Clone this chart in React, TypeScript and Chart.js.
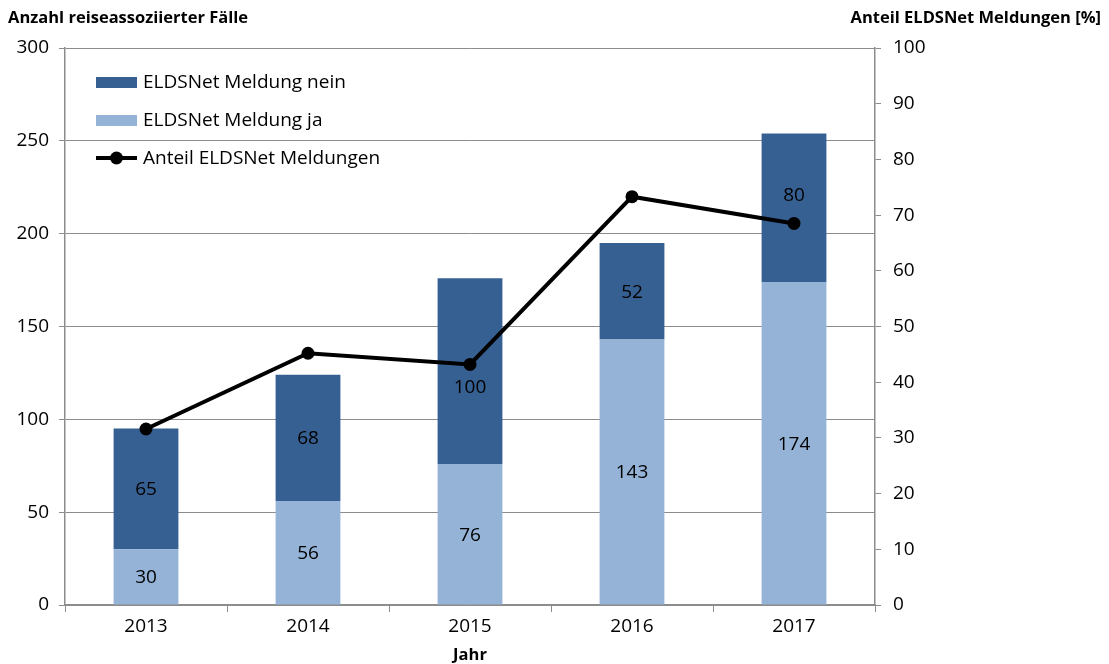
import React, { useEffect, useRef } from "react";
import { Chart, registerables } from "chart.js";

Chart.register(...registerables);

const years = ["2013", "2014", "2015", "2016", "2017"];
const meldungJa = [30, 56, 76, 143, 174];
const meldungNein = [65, 68, 100, 52, 80];
const anteil = [31.6, 45.2, 43.2, 73.3, 68.5];

const leftTitle = "Anzahl reiseassoziierter Fälle";
const rightTitle = "Anteil ELDSNet Meldungen [%]";
const xTitle = "Jahr";
const legendLabels = ["ELDSNet Meldung nein", "ELDSNet Meldung ja", "Anteil ELDSNet Meldungen"];

const DARK = "#376092";
const LIGHT = "#95B3D7";
const GRID = "#8c8c8c";
const FONT = "'Open Sans', sans-serif";
const FS = 19;
// pixel nudges of the "nein" value labels (to avoid the line markers), as in the original
const neinLabelNudge = [0, 0, 16, 0, -13];

export default function App() {
  const ref = useRef<HTMLCanvasElement | null>(null);

  useEffect(() => {
    document.body.style.margin = "0";
    const canvas = ref.current;
    if (!canvas) return;

    const extras = {
      id: "extras",
      afterDatasetDraw(chart: any, args: any) {
        const ds = chart.data.datasets[args.index];
        if (ds.type !== "bar") return;
        const ctx = chart.ctx;
        ctx.save();
        ctx.fillStyle = "#000";
        ctx.font = `${FS}px ${FONT}`;
        ctx.textAlign = "center";
        ctx.textBaseline = "middle";
        const nudge = ds.label === legendLabels[0] ? neinLabelNudge : null;
        args.meta.data.forEach((el: any, i: number) => {
          const p = el.getProps(["x", "y", "base"], true);
          ctx.fillText(String(ds.data[i]), p.x, (p.y + p.base) / 2 + 1 + (nudge ? nudge[i] : 0));
        });
        ctx.restore();
      },
      afterDraw(chart: any) {
        const ctx = chart.ctx;
        const area = chart.chartArea;
        ctx.save();
        ctx.fillStyle = "#000";
        ctx.font = `bold 16.5px ${FONT}`;
        ctx.textBaseline = "middle";
        ctx.textAlign = "left";
        ctx.fillText(leftTitle, 8, 18);
        ctx.textAlign = "right";
        ctx.fillText(rightTitle, 1101, 18);
        ctx.textAlign = "center";
        ctx.fillText(xTitle, (area.left + area.right) / 2, 655);

        // legend
        const lx = area.left + 31;
        const ys = [82, 120, 158];
        ctx.font = `${FS}px ${FONT}`;
        ctx.textAlign = "left";
        ctx.fillStyle = DARK;
        ctx.fillRect(lx, ys[0] - 5, 41, 11);
        ctx.fillStyle = LIGHT;
        ctx.fillRect(lx, ys[1] - 5, 41, 11);
        ctx.strokeStyle = "#000";
        ctx.lineWidth = 4;
        ctx.beginPath();
        ctx.moveTo(lx, ys[2]);
        ctx.lineTo(lx + 41, ys[2]);
        ctx.stroke();
        ctx.fillStyle = "#000";
        ctx.beginPath();
        ctx.arc(lx + 20.5, ys[2], 6.5, 0, Math.PI * 2);
        ctx.fill();
        legendLabels.forEach((t, i) => ctx.fillText(t, lx + 47, ys[i] + 1));
        ctx.restore();
      },
    };

    const chart = new Chart(canvas, {
      data: {
        labels: years,
        datasets: [
          {
            type: "line",
            label: legendLabels[2],
            data: anteil,
            yAxisID: "y1",
            borderColor: "#000",
            backgroundColor: "#000",
            borderWidth: 4,
            pointRadius: 6.5,
            pointBackgroundColor: "#000",
            pointBorderWidth: 0,
            tension: 0,
            order: 0,
          },
          {
            type: "bar",
            label: legendLabels[1],
            data: meldungJa,
            backgroundColor: LIGHT,
            stack: "s",
            yAxisID: "y",
            barPercentage: 0.4,
            categoryPercentage: 1,
            order: 1,
          },
          {
            type: "bar",
            label: legendLabels[0],
            data: meldungNein,
            backgroundColor: DARK,
            stack: "s",
            yAxisID: "y",
            barPercentage: 0.4,
            categoryPercentage: 1,
            order: 1,
          },
        ],
      } as any,
      options: {
        animation: false,
        responsive: false,
        maintainAspectRatio: false,
        layout: { padding: { top: 48, left: 0, right: 0, bottom: 0 } },
        plugins: { legend: { display: false }, tooltip: { enabled: false } },
        scales: {
          x: {
            stacked: true,
            offset: true,
            grid: {
              offset: true,
              drawOnChartArea: false,
              drawTicks: true,
              tickLength: 7,
              color: GRID,
            },
            border: { color: GRID, width: 1.5 },
            ticks: { color: "#000", font: { family: FONT, size: FS }, padding: 3 },
            afterFit(s: any) {
              s.height = 59;
            },
          },
          y: {
            stacked: true,
            position: "left",
            min: 0,
            max: 300,
            ticks: { stepSize: 50, color: "#000", font: { family: FONT, size: FS }, padding: 10 },
            grid: { color: GRID, lineWidth: 1, tickLength: 6 },
            border: { color: GRID, width: 1.5 },
            afterFit(s: any) {
              s.width = 65;
            },
          },
          y1: {
            position: "right",
            min: 0,
            max: 100,
            ticks: { stepSize: 10, color: "#000", font: { family: FONT, size: FS }, padding: 12 },
            grid: { drawOnChartArea: false, color: GRID, tickLength: 6 },
            border: { color: GRID, width: 1.5 },
            afterFit(s: any) {
              s.width = 234;
            },
          },
        },
      } as any,
      plugins: [extras],
    });
    return () => chart.destroy();
  }, []);

  return <canvas ref={ref} width={1109} height={664} style={{ display: "block" }} />;
}
